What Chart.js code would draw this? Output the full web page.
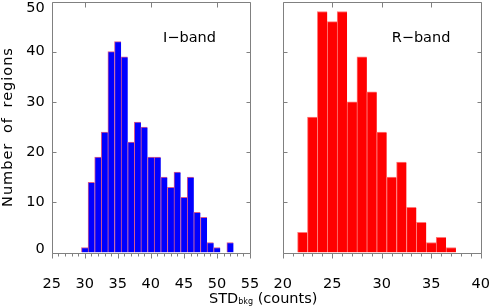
<!DOCTYPE html>
<html>
<head>
<meta charset="utf-8">
<script src="https://cdn.jsdelivr.net/npm/chart.js@4.4.1/dist/chart.umd.min.js"></script>
<style>
  body { margin: 0; background: #fff; overflow: hidden; }
  #wrap { position: relative; width: 491px; height: 308px; font-family: 'DejaVu Sans', sans-serif; }
  canvas { position: absolute; left: 0; top: 0; }
  .band { position: absolute; font-size: 14.5px; line-height: 14.5px; color: #000; white-space: nowrap; }
  #xtitle { position: absolute; left: 209px; top: 291px; font-size: 14.5px; line-height: 14.5px; white-space: nowrap; }
  #xtitle sub { font-size: 8px; vertical-align: baseline; position: relative; top: 1px; }
  #ytitle { position: absolute; left: -93px; top: 120px; width: 200px; height: 14px; text-align: center;
            font-size: 14.5px; line-height: 14px; letter-spacing: 1px; word-spacing: 4px; color: #000;
            white-space: nowrap; transform: rotate(-90deg); }
</style>
</head>
<body>
<div id="wrap">
  <canvas id="iChart" width="491" height="308"></canvas>
  <canvas id="rChart" width="491" height="308"></canvas>
  <div class="band" style="left:163px;top:29.7px">I−band</div>
  <div class="band" style="left:391.7px;top:29.7px">R−band</div>
  <div id="ytitle">Number of regions</div>
  <div id="xtitle">STD<sub>bkg</sub> (counts)</div>
</div>
<script>
// Histogram bin centres and counts
const iBins = [30, 31, 32, 33, 34, 35, 36, 37, 38, 39, 40, 41, 42, 43, 44, 45, 46, 47, 48, 49, 50, 51, 52];
const iCounts = [1, 14, 19, 24, 40, 42, 39, 22, 26, 25, 19, 19, 15, 13, 16, 11, 15, 8, 7, 2, 1, 0, 2];
const rBins = [22, 23, 24, 25, 26, 27, 28, 29, 30, 31, 32, 33, 34, 35, 36, 37];
const rCounts = [4, 27, 48, 46, 48, 30, 39, 32, 24, 15, 18, 9, 6, 2, 3, 1];

// Tick labels
const iTicks = [25, 30, 35, 40, 45, 50, 55];
const rTicks = [20, 25, 30, 35, 40];
const yTicks = [0, 10, 20, 30, 40, 50];

Chart.defaults.font.family = "'DejaVu Sans', sans-serif";
Chart.defaults.color = '#000';

// Draws the grey frame, IDL-style ticks and (optionally) the y labels
const frameTicks = {
    id: 'frameTicks',
    afterDraw(chart, args, opts) {
        const { ctx, chartArea: a } = chart;
        const x = chart.scales.x, y = chart.scales.y;
        const px = v => Math.round(v) + 0.5;
        const L = px(a.left), R = px(a.right), T = px(a.top), B = px(a.bottom);
        ctx.save();
        ctx.strokeStyle = '#808080';
        ctx.lineWidth = 1;
        ctx.beginPath();
        ctx.rect(L, T, R - L, B - T);
        // bottom: minor tick each unit, longer at labelled values
        for (let v = x.min; v <= x.max; v += 1) {
            const xp = px(x.getPixelForValue(v));
            const len = (v - x.min) % opts.xStep === 0 ? 5 : 3;
            ctx.moveTo(xp, B);
            ctx.lineTo(xp, B + len);
        }
        // top ticks
        for (let v = opts.topFrom; v < x.max; v += opts.topStep) {
            const xp = px(x.getPixelForValue(v));
            ctx.moveTo(xp, T);
            ctx.lineTo(xp, T + 5);
        }
        // y ticks on both sides, pointing in
        yTicks.forEach(v => {
            const yp = px(y.getPixelForValue(v));
            ctx.moveTo(L, yp); ctx.lineTo(L + 4, yp);
            ctx.moveTo(R, yp); ctx.lineTo(R - 4, yp);
        });
        ctx.stroke();

        if (opts.yLabels) {
            ctx.fillStyle = '#000';
            ctx.font = "14.5px 'DejaVu Sans'";
            ctx.textAlign = 'right';
            ctx.textBaseline = 'middle';
            y.ticks.forEach(t => {
                let yp = y.getPixelForValue(t.value);
                yp = Math.min(Math.max(yp, a.top + 7), a.bottom - 3.5);
                ctx.fillText(String(t.value), a.left - 7, yp);
            });
        }
        ctx.restore();
    }
};

function makeHist(id, bins, counts, ticks, fill, edge, padding, yWidth, frameOpts) {
    const points = bins.map((b, i) => ({ x: b, y: counts[i] }));
    return new Chart(document.getElementById(id), {
        type: 'bar',
        data: {
            datasets: [{
                data: points,
                backgroundColor: fill,
                borderColor: edge,
                borderWidth: { top: 1, left: 1, right: 0, bottom: 0 },
                borderSkipped: false,
                barPercentage: 1.0,
                categoryPercentage: 1.0
            }]
        },
        options: {
            responsive: false,
            devicePixelRatio: 1,
            animation: false,
            layout: { padding: padding },
            plugins: {
                legend: { display: false },
                tooltip: { enabled: false },
                frameTicks: frameOpts
            },
            scales: {
                x: {
                    type: 'linear',
                    offset: false,
                    min: ticks[0],
                    max: ticks[ticks.length - 1],
                    grid: { display: false },
                    border: { display: false },
                    ticks: {
                        stepSize: ticks[1] - ticks[0],
                        maxRotation: 0,
                        autoSkip: false,
                        padding: 15.5,
                        font: { size: 14.5 },
                        color: '#000'
                    },
                    afterFit(s) {
                        s.height = 308 - 252.5;
                        s.paddingLeft = 0;
                        s.paddingRight = 0;
                    }
                },
                y: {
                    min: yTicks[0],
                    max: yTicks[yTicks.length - 1],
                    grid: { display: false },
                    border: { display: false },
                    ticks: { stepSize: yTicks[1] - yTicks[0], display: false },
                    afterFit(s) {
                        s.width = yWidth;
                        s.paddingTop = 0;
                        s.paddingBottom = 0;
                    }
                }
            }
        },
        plugins: [frameTicks]
    });
}

makeHist('iChart', iBins, iCounts, iTicks, '#0000ff', 'rgb(215,90,140)',
    { left: 0, right: 491 - 250, top: 1.5, bottom: 0 },
    51.7, { xStep: 5, topFrom: 30, topStep: 10, yLabels: true });

makeHist('rChart', rBins, rCounts, rTicks, '#ff0000', 'rgb(255,120,120)',
    { left: 282.7, right: 491 - 480.7, top: 1.5, bottom: 0 },
    0, { xStep: 5, topFrom: 25, topStep: 5, yLabels: false });
</script>
</body>
</html>
